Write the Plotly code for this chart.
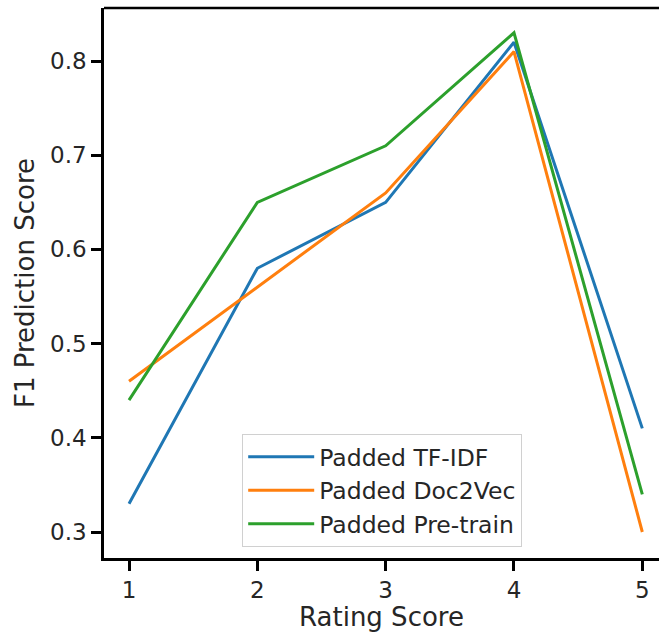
import plotly.graph_objects as go

ratings = [1, 2, 3, 4, 5]
tfidf = [0.33, 0.58, 0.65, 0.82, 0.41]
doc2vec = [0.46, 0.56, 0.66, 0.81, 0.30]
pretrain = [0.44, 0.65, 0.71, 0.83, 0.34]

series = [
    ("Padded TF-IDF", tfidf, "#1f77b4"),
    ("Padded Doc2Vec", doc2vec, "#ff7f0e"),
    ("Padded Pre-train", pretrain, "#2ca02c"),
]

fig = go.Figure()
for name, vals, color in series:
    fig.add_trace(go.Scatter(x=ratings, y=vals, mode="lines", name=name,
                             line=dict(color=color, width=3)))

font = "DejaVu Sans"
txt = "#262626"
fig.update_layout(
    width=659, height=632,
    margin=dict(l=104, r=0, t=8, b=74),
    paper_bgcolor="white", plot_bgcolor="white",
    font=dict(family=font, color=txt, size=23),
    showlegend=True,
    legend=dict(x=0.249, y=0.2255, xanchor="left", yanchor="top",
                bgcolor="white", bordercolor="#d0d0d0", borderwidth=1,
                font=dict(size=23.5, family=font, color=txt),
                itemwidth=66, tracegroupgap=0),
)
fig.update_xaxes(range=[0.805, 5.13], tickmode="array", tickvals=ratings,
                 ticktext=[str(r) for r in ratings],
                 showgrid=False, zeroline=False, showline=True, linecolor="black",
                 linewidth=2.5, ticks="outside", ticklen=10, tickwidth=2.5,
                 tickcolor="black", tickfont=dict(size=23, family=font, color=txt),
                 title=dict(text="Rating Score", font=dict(size=26, family=font, color=txt),
                            standoff=10))
fig.update_yaxes(range=[0.2724, 0.8563], tickmode="array",
                 tickvals=[0.3, 0.4, 0.5, 0.6, 0.7, 0.8],
                 ticktext=["0.3", "0.4", "0.5", "0.6", "0.7", "0.8"],
                 showgrid=False, zeroline=False, showline=True, linecolor="black",
                 linewidth=2.5, ticks="outside", ticklen=10, tickwidth=2.5,
                 tickcolor="black", tickfont=dict(size=23, family=font, color=txt),
                 title=dict(text="F1 Prediction Score", font=dict(size=26, family=font, color=txt),
                            standoff=8))
fig.add_shape(type="line", xref="paper", yref="paper", x0=0, x1=1, y0=1, y1=1,
              line=dict(color="black", width=2.5))
fig.write_html("out.html")
